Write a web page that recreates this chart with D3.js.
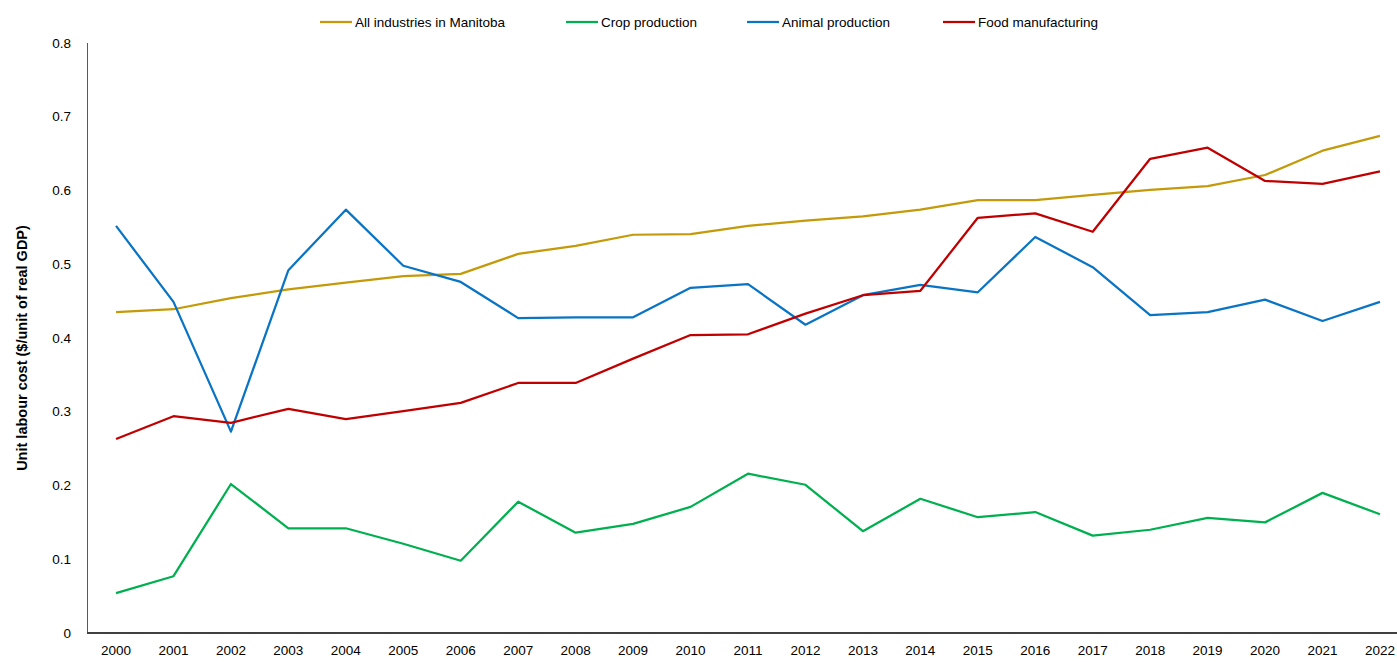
<!DOCTYPE html>
<html><head><meta charset="utf-8">
<script src="https://cdn.jsdelivr.net/npm/d3@7/dist/d3.min.js"></script>
<style>
html,body{margin:0;padding:0;background:#fff;}
svg{display:block;font-family:"Liberation Sans",Arial,sans-serif;}
</style></head>
<body><svg id="c" width="1397" height="662"></svg>
<script>
const years = d3.range(2000, 2023).map(String);
const allIndustries = [0.435,0.439,0.454,0.466,0.475,0.484,0.487,0.514,0.525,0.540,0.541,0.552,0.559,0.565,0.574,0.587,0.587,0.594,0.601,0.606,0.621,0.654,0.674];
const cropProduction = [0.054,0.077,0.202,0.142,0.142,0.121,0.098,0.178,0.136,0.148,0.171,0.216,0.201,0.138,0.182,0.157,0.164,0.132,0.140,0.156,0.150,0.190,0.161];
const animalProduction = [0.552,0.449,0.273,0.492,0.574,0.498,0.476,0.427,0.428,0.428,0.468,0.473,0.418,0.458,0.472,0.462,0.537,0.496,0.431,0.435,0.452,0.423,0.449];
const foodManufacturing = [0.263,0.294,0.285,0.304,0.290,0.301,0.312,0.339,0.339,0.372,0.404,0.405,0.433,0.458,0.464,0.563,0.569,0.544,0.643,0.658,0.613,0.609,0.626];
const seriesNames = ["All industries in Manitoba","Crop production","Animal production","Food manufacturing"];
const yTicks = [0,0.1,0.2,0.3,0.4,0.5,0.6,0.7,0.8];
const yTitle = "Unit labour cost ($/unit of real GDP)";

const seriesData = [allIndustries, cropProduction, animalProduction, foodManufacturing];
const colors = ["#C49A0A","#00B050","#0A74C4","#C00000"];

const svg = d3.select("#c");
const x = d3.scalePoint().domain(years).range([87.3, 1408.7]).padding(0.5);
const y = d3.scaleLinear().domain([0,0.8]).range([633,43]);

// y axis line
svg.append("line").attr("x1",87.5).attr("x2",87.5).attr("y1",43).attr("y2",633)
  .attr("stroke","#595959").attr("stroke-width",1);

// y labels
svg.append("g").selectAll("text").data(yTicks).join("text")
  .attr("x",71).attr("y",d=>y(d)).attr("dy","0.35em").attr("text-anchor","end")
  .attr("font-size","13.5px").attr("fill","#000")
  .text(d=>d===0?"0":d3.format(".1f")(d));

// x labels
svg.append("g").selectAll("text").data(years).join("text")
  .attr("x",d=>x(d)).attr("y",650).attr("dy","0.35em").attr("text-anchor","middle")
  .attr("font-size","13.5px").attr("fill","#000").text(d=>d);

// lines
const line = d3.line().x((d,i)=>x(years[i])).y(d=>y(d));
seriesData.forEach((s,k)=>{
  svg.append("path").datum(s).attr("d",line).attr("fill","none")
    .attr("stroke",colors[k]).attr("stroke-width",2.25).attr("stroke-linejoin","round");
});

// x axis line
svg.append("line").attr("x1",87).attr("x2",1408).attr("y1",633).attr("y2",633)
  .attr("stroke","#404040").attr("stroke-width",2);

// y title
svg.append("text").attr("transform","translate(27,348) rotate(-90)")
  .attr("text-anchor","middle").attr("font-size","14.5px").attr("font-weight","bold")
  .text(yTitle);

// legend
const legendX = [320, 566, 747, 943];
const lg = svg.append("g");
seriesNames.forEach((n,k)=>{
  lg.append("line").attr("x1",legendX[k]).attr("x2",legendX[k]+32).attr("y1",22).attr("y2",22)
    .attr("stroke",colors[k]).attr("stroke-width",2.25);
  lg.append("text").attr("x",legendX[k]+35).attr("y",22).attr("dy","0.35em")
    .attr("font-size","13.5px").text(n);
});
</script></body></html>
